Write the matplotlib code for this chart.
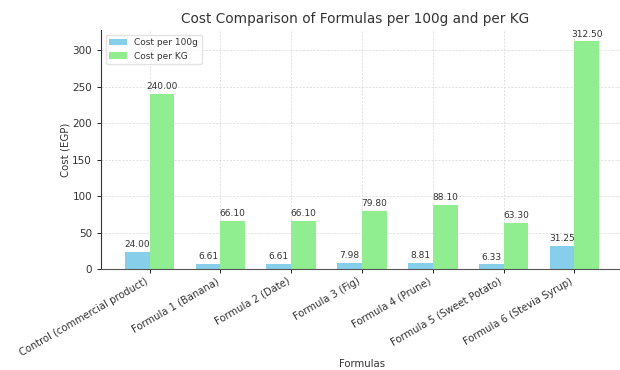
import numpy as np
import matplotlib
matplotlib.use("Agg")
import matplotlib.pyplot as plt

formulas = ["Control (commercial product)", "Formula 1 (Banana)", "Formula 2 (Date)",
            "Formula 3 (Fig)", "Formula 4 (Prune)", "Formula 5 (Sweet Potato)",
            "Formula 6 (Stevia Syrup)"]
cost_100g = [24.00, 6.61, 6.61, 7.98, 8.81, 6.33, 31.25]
cost_kg = [240.00, 66.10, 66.10, 79.80, 88.10, 63.30, 312.50]

txt = "#333333"
x = np.arange(len(formulas))
width = 0.35

fig = plt.figure(figsize=(6.2, 3.7), dpi=100)
ax = fig.add_axes([101 / 620, 101 / 370, 522 / 620, 239 / 370])

b1 = ax.bar(x - width / 2, cost_100g, width, color="skyblue", label="Cost per 100g")
b2 = ax.bar(x + width / 2, cost_kg, width, color="lightgreen", label="Cost per KG")

ax.bar_label(b1, fmt="%.2f", padding=2, fontsize=6.5, color=txt)
ax.bar_label(b2, fmt="%.2f", padding=2, fontsize=6.5, color=txt)

ax.set_title("Cost Comparison of Formulas per 100g and per KG", fontsize=9.8, color=txt,
             pad=5, x=0.487)
ax.set_xlabel("Formulas", fontsize=7.3, color=txt, labelpad=1)
ax.set_ylabel("Cost (EGP)", fontsize=7.3, color=txt, labelpad=1)
ax.set_xticks(x)
ax.set_xticklabels(formulas, rotation=30, ha="right", fontsize=7.2, color=txt)
ax.tick_params(axis="y", labelsize=7.5, labelcolor=txt, length=3, width=0.6)
ax.tick_params(axis="x", length=3, width=0.6, pad=2)

ax.grid(True, linestyle=(0, (3, 2)), color="#cccccc", linewidth=0.5, alpha=0.8)
ax.set_axisbelow(True)
for s in ["top", "right"]:
    ax.spines[s].set_visible(False)
ax.spines["left"].set_color("#333333")
ax.spines["bottom"].set_color("#555555")
ax.spines["left"].set_linewidth(0.8)
ax.spines["bottom"].set_linewidth(0.8)

ax.legend(loc="upper left", fontsize=6.5, frameon=True, framealpha=0.8, edgecolor="#dddddd",
          labelcolor=txt)

fig.savefig("out.png", dpi=100)
